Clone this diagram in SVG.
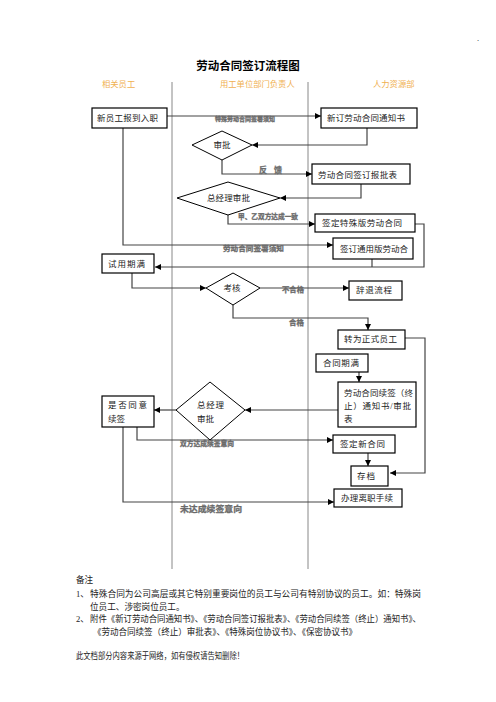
<svg xmlns="http://www.w3.org/2000/svg" width="496" height="702" viewBox="0 0 496 702">
<style>
.bg{fill:#fff}
.box{fill:#fff;stroke:#000;stroke-width:1.2}
.dia{fill:#fff;stroke:#000;stroke-width:1}
.lane{stroke:#888;stroke-width:1;fill:none}
.con{fill:none;stroke:#444;stroke-width:1.2}
.t{font-family:"Liberation Serif","Noto Sans CJK SC",serif;font-size:8.5px;fill:#222}
.lbl{font-family:"Liberation Sans","Noto Sans CJK SC",sans-serif;font-weight:bold;fill:#6a6a6a;stroke:#6a6a6a;stroke-width:0.3}
.hdr{font-family:"Liberation Serif","Noto Sans CJK SC",serif;font-size:8.3px;fill:#f0b050}
.title{font-family:"Liberation Sans","Noto Sans CJK SC",sans-serif;font-size:11.5px;font-weight:bold;fill:#000}
.note{font-family:"Liberation Serif","Noto Sans CJK SC",serif;font-size:8.6px;fill:#222}
</style>
<defs>
<marker id="ah" markerUnits="userSpaceOnUse" markerWidth="6" markerHeight="6" refX="6" refY="3" orient="auto">
<path d="M0,0 L6,3 L0,6 z" fill="#000"/>
</marker>
</defs>
<rect class="bg" x="0" y="0" width="496" height="702"/>
<text x="477" y="41" class="t" font-size="6">.</text>
<text x="248" y="70" class="title" text-anchor="middle">劳动合同签订流程图</text>
<g id="lanes">
<text x="102" y="87" class="hdr">相关员工</text>
<text x="220" y="87" class="hdr">用工单位部门负责人</text>
<text x="373" y="87" class="hdr">人力资源部</text>
<line x1="172" y1="82" x2="172" y2="569" class="lane"/>
<line x1="308" y1="82" x2="308" y2="569" class="lane"/>
</g>
<g id="connectors">
<path class="con" d="M167,116 H321" marker-end="url(#ah)"/>
<path class="con" d="M367,128 V145 H252" marker-end="url(#ah)"/>
<path class="con" d="M222,160 V174 H312" marker-end="url(#ah)"/>
<path class="con" d="M361,184 V198 H280" marker-end="url(#ah)"/>
<path class="con" d="M228,215 V224 H315" marker-end="url(#ah)"/>
<path class="con" d="M415,224 H424 V267 H155" marker-end="url(#ah)"/>
<path class="con" d="M123,128 V245 H333" marker-end="url(#ah)"/>
<path class="con" d="M372,259 V267"/>
<path class="con" d="M132,273 V288 H206" marker-end="url(#ah)"/>
<path class="con" d="M260,288 H349" marker-end="url(#ah)"/>
<path class="con" d="M233,305 V318 H368 V330" marker-end="url(#ah)"/>
<path class="con" d="M405,338 H425 V473 H390" marker-end="url(#ah)"/>
<path class="con" d="M359,372 V382" marker-end="url(#ah)"/>
<path class="con" d="M338,410 H245" marker-end="url(#ah)"/>
<path class="con" d="M176,410 H154" marker-end="url(#ah)"/>
<path class="con" d="M137,427 V440 H333" marker-end="url(#ah)"/>
<path class="con" d="M368,453 V466" marker-end="url(#ah)"/>
<path class="con" d="M123,427 V502 H334" marker-end="url(#ah)"/>
<text x="215" y="121" class="lbl" font-size="6" textLength="60" lengthAdjust="spacingAndGlyphs">特殊劳动合同签署须知</text>
<text x="259" y="173" class="lbl" font-size="8" textLength="23">反馈</text>
<text x="238" y="219" class="lbl" font-size="6.5" textLength="60" lengthAdjust="spacingAndGlyphs">甲、乙双方达成一致</text>
<text x="223" y="251" class="lbl" font-size="7.2" textLength="61" lengthAdjust="spacingAndGlyphs">劳动合同签署须知</text>
<text x="282" y="292" class="lbl" font-size="7" textLength="22" lengthAdjust="spacingAndGlyphs">不合格</text>
<text x="289" y="325" class="lbl" font-size="7" textLength="15" lengthAdjust="spacingAndGlyphs">合格</text>
<text x="180" y="446" class="lbl" font-size="6.6" textLength="54" lengthAdjust="spacingAndGlyphs">双方达成续签意向</text>
<text x="180" y="512" class="lbl" font-size="8" textLength="62" lengthAdjust="spacingAndGlyphs">未达成续签意向</text>
</g>
<g id="n1"><rect class="box" x="92" y="108" width="75" height="20"/><text x="97" y="121" class="t" textLength="61">新员工报到入职</text></g>
<g id="n2"><rect class="box" x="321" y="108" width="96" height="20"/><text x="327" y="121" class="t" textLength="78">新订劳动合同通知书</text></g>
<g id="n3"><polygon class="dia" points="192,145 222,131 252,145 222,160"/><text x="222" y="148" class="t" text-anchor="middle">审批</text></g>
<g id="n4"><rect class="box" x="312" y="164" width="98" height="20"/><text x="318" y="178" class="t" textLength="79">劳动合同签订报批表</text></g>
<g id="n5"><polygon class="dia" points="177,198 228,182 280,198 228,215"/><text x="207" y="201" class="t" textLength="43">总经理审批</text></g>
<g id="n6"><rect class="box" x="315" y="214" width="100" height="18"/><text x="322" y="226" class="t" textLength="80">签定特殊版劳动合同</text></g>
<g id="n7"><rect class="box" x="333" y="238" width="80" height="21"/><text x="340" y="252" class="t" font-size="7.6" textLength="68">签订通用版劳动合</text></g>
<g id="n8"><rect class="box" x="102" y="254" width="52" height="19"/><text x="108" y="267" class="t" textLength="37">试用期满</text></g>
<g id="n9"><polygon class="dia" points="206,288 233,273 260,288 233,305"/><text x="232" y="291" class="t" text-anchor="middle">考核</text></g>
<g id="n10"><rect class="box" x="349" y="281" width="53" height="19"/><text x="356" y="293" class="t" textLength="36">辞退流程</text></g>
<g id="n11"><rect class="box" x="338" y="330" width="67" height="19"/><text x="344" y="342" class="t" textLength="53">转为正式员工</text></g>
<g id="n12"><rect class="box" x="316" y="354" width="52" height="18"/><text x="323" y="366" class="t" textLength="36">合同期满</text></g>
<g id="n13"><rect class="box" x="338" y="382" width="78" height="45"/><text x="344" y="396" class="t" textLength="69">劳动合同续签（终</text><text x="344" y="409" class="t" textLength="67">止）通知书/审批</text><text x="344" y="422" class="t">表</text></g>
<g id="n14"><polygon class="dia" points="176,410 210,382 245,410 210,440"/><text x="197" y="408" class="t" textLength="27">总 经 理</text><text x="197" y="422" class="t">审批</text></g>
<g id="n15"><rect class="box" x="102" y="396" width="52" height="31"/><text x="108" y="408" class="t" textLength="39">是 否 同 意</text><text x="108" y="422" class="t">续签</text></g>
<g id="n16"><rect class="box" x="333" y="435" width="62" height="18"/><text x="340" y="447" class="t" textLength="45">签定新合同</text></g>
<g id="n17"><rect class="box" x="351" y="466" width="37" height="20"/><text x="357" y="479" class="t" textLength="18">存档</text></g>
<g id="n18"><rect class="box" x="334" y="489" width="68" height="18"/><text x="341" y="501" class="t" textLength="52">办理离职手续</text></g>
<g id="notes">
<text x="76" y="583" class="note">备注</text>
<text x="76" y="597" class="note">1、</text>
<text x="90" y="597" class="note" textLength="331" lengthAdjust="spacingAndGlyphs">特殊合同为公司高层或其它特别重要岗位的员工与公司有特别协议的员工。如：特殊岗</text>
<text x="90" y="610" class="note">位员工、涉密岗位员工。</text>
<text x="76" y="622" class="note">2、</text>
<text x="90" y="622" class="note" textLength="331" lengthAdjust="spacingAndGlyphs">附件《新订劳动合同通知书》、《劳动合同签订报批表》、《劳动合同续签（终止）通知书》、</text>
<text x="93" y="635" class="note" textLength="264" lengthAdjust="spacingAndGlyphs">《劳动合同续签（终止）审批表》、《特殊岗位协议书》、《保密协议书》</text>
<text x="76" y="659" class="note" font-size="7" textLength="168" lengthAdjust="spacingAndGlyphs">此文档部分内容来源于网络，如有侵权请告知删除！</text>
</g>
</svg>
